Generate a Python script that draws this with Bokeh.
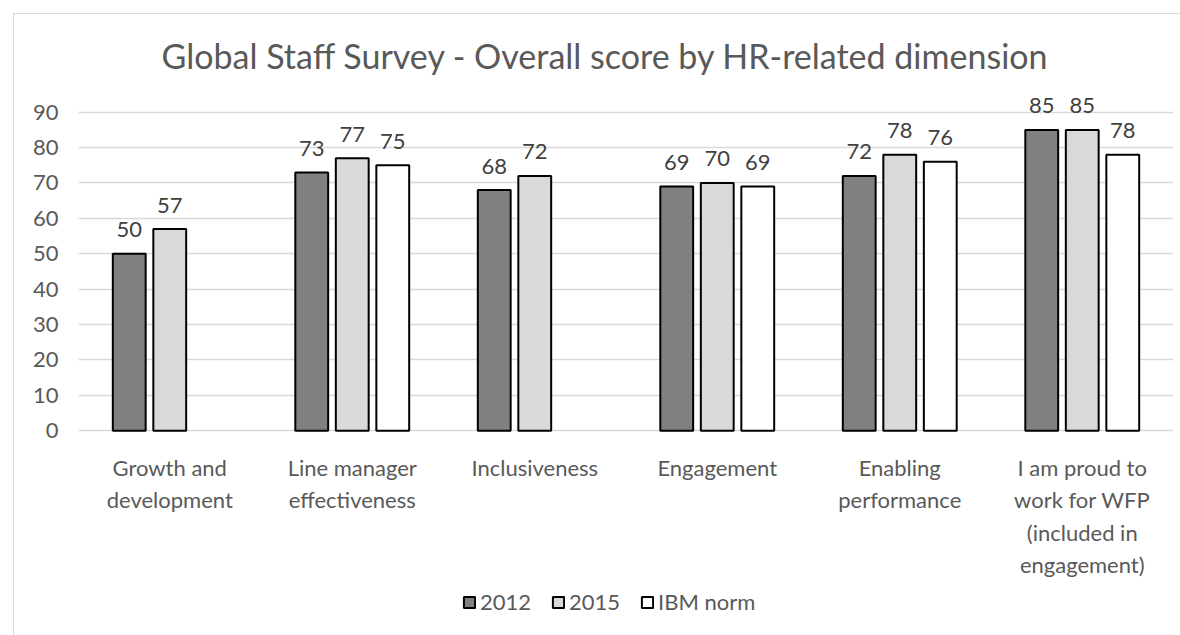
from bokeh.plotting import figure
from bokeh.models import ColumnDataSource, FixedTicker, Legend, LegendItem
from bokeh.core.properties import value
from bokeh.transform import dodge
from bokeh.embed import file_html
from bokeh.resources import INLINE

categories = ["Growth and\ndevelopment", "Line manager\neffectiveness", "Inclusiveness",
              "Engagement", "Enabling\nperformance",
              "I am proud to\nwork for WFP\n(included in\nengagement)"]
y2012 = [50, 73, 68, 69, 72, 85]
y2015 = [57, 77, 72, 70, 78, 85]
ibm = [None, 75, None, 69, 76, 78]
series_names = ["2012", "2015", "IBM norm"]
colors = ["#808080", "#d9d9d9", "#ffffff"]
y_ticks = [0, 10, 20, 30, 40, 50, 60, 70, 80, 90]

FONT = "Lato"
GREY = "#595959"

# frame extends below the zero line so that category labels and legend can sit inside it
p = figure(x_range=categories, y_range=(-57.26, 95), frame_width=1095, frame_height=539,
           output_backend="svg", toolbar_location=None,
           title="Global Staff Survey - Overall score by HR-related dimension",
           min_border_left=64, min_border_right=8, min_border_top=80, min_border_bottom=3)
p.margin = (13, 0, 0, 13)
p.styles = {"border-top": "1px solid #d9d9d9", "border-left": "1px solid #d9d9d9"}

p.title.align = "left"
p.title.offset = 83
p.title.standoff = 37
p.title.text_font = FONT
p.title.text_font_size = "34px"
p.title.text_font_style = "normal"
p.title.text_color = GREY

p.outline_line_color = None
p.background_fill_color = "white"
p.border_fill_color = "white"

p.xgrid.grid_line_color = None
p.ygrid.grid_line_color = "#d9d9d9"
p.ygrid.grid_line_width = 1.5
p.yaxis.ticker = FixedTicker(ticks=y_ticks)
p.yaxis.axis_line_color = None
p.yaxis.major_tick_line_color = None
p.yaxis.minor_tick_line_color = None
p.yaxis.major_label_text_font = FONT
p.yaxis.major_label_text_font_size = "22px"
p.yaxis.major_label_text_color = GREY
p.yaxis.major_label_standoff = 14
p.xaxis.visible = False

# category labels under the zero line
cat_src = ColumnDataSource(dict(x=categories, y=[0] * len(categories), lab=categories))
p.text(x="x", y="y", text="lab", source=cat_src, text_align="center", text_baseline="top",
       y_offset=23, text_line_height=1.2, text_font=value(FONT),
       text_font_size=value("22px"), text_color=GREY)

offsets = [-0.222, 0.0, 0.222]
all_vals = [y2012, y2015, ibm]
items = []
for name, vals, col, off in zip(series_names, all_vals, colors, offsets):
    xs = [c for c, v in zip(categories, vals) if v is not None]
    ys = [v for v in vals if v is not None]
    src = ColumnDataSource(dict(x=xs, y=ys, lab=[str(v) for v in ys]))
    r = p.vbar(x=dodge("x", off, range=p.x_range), top="y", width=0.18, source=src,
               fill_color=col, line_color="black", line_width=2)
    p.text(x=dodge("x", off, range=p.x_range), y="y", text="lab", source=src,
           text_align="center", text_baseline="alphabetic", y_offset=-24,
           text_font=value(FONT), text_font_size=value("22px"), text_color="#404040")
    items.append(LegendItem(label=name, renderers=[r]))

legend = Legend(items=items, orientation="horizontal", location=(384, 18),
                label_text_font=FONT, label_text_font_size="22px", label_text_color=GREY,
                glyph_width=14, glyph_height=14, spacing=20, label_standoff=4,
                border_line_color=None, background_fill_alpha=0, margin=0, padding=4)
p.add_layout(legend, "center")

open("out.html", "w").write(file_html(p, INLINE))
